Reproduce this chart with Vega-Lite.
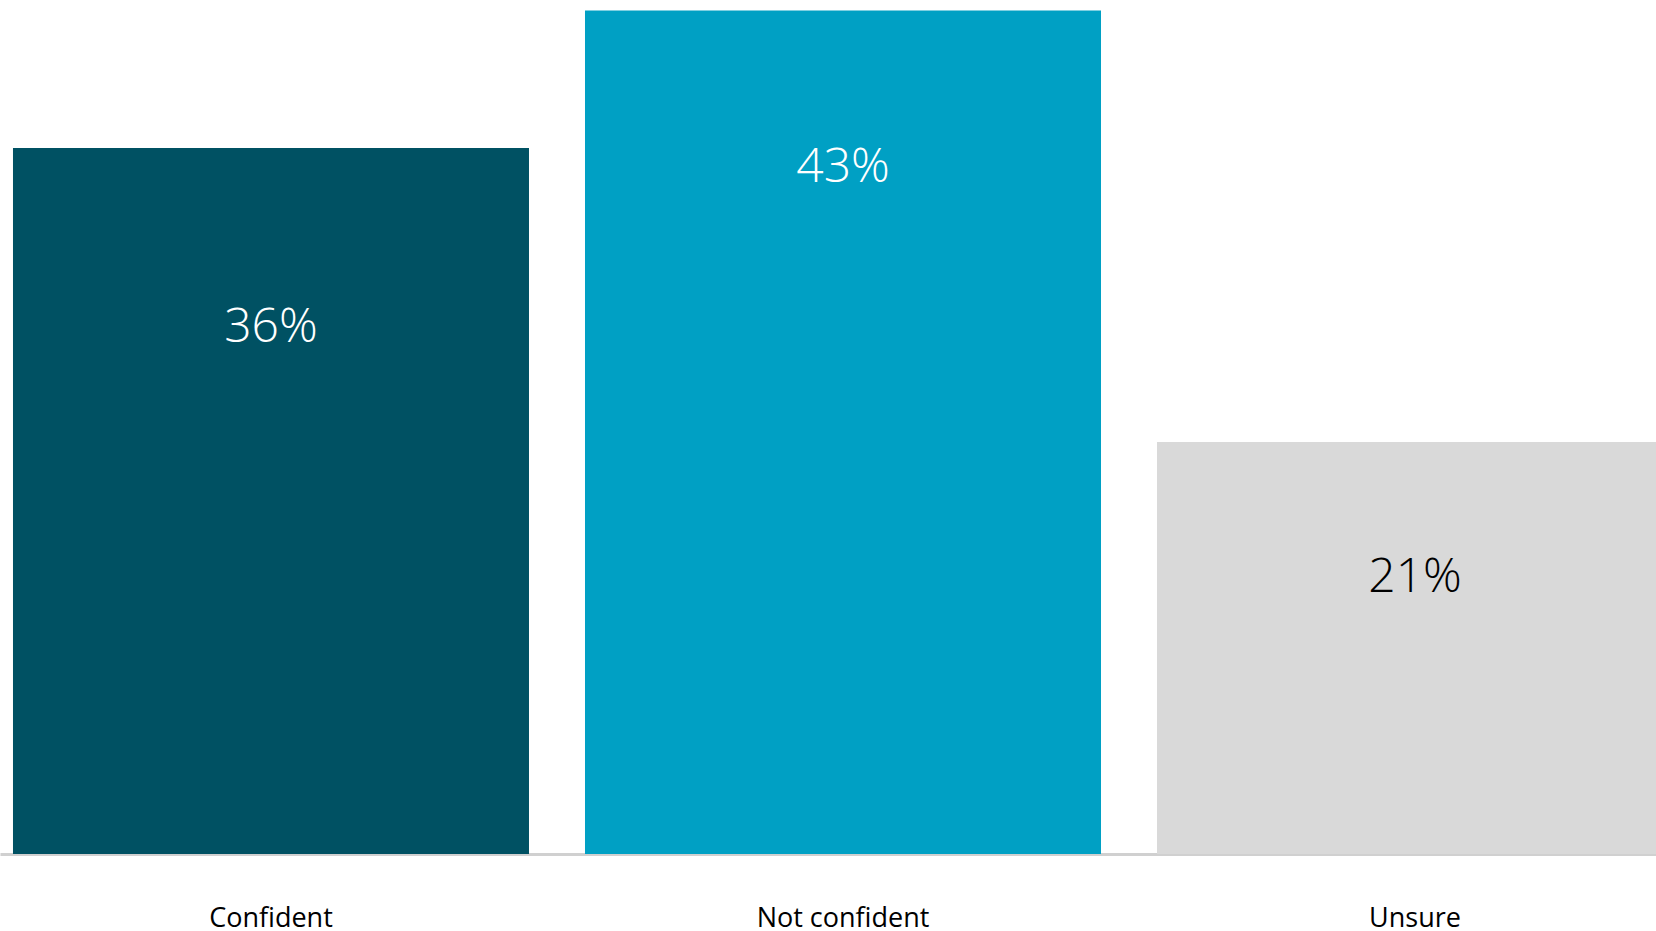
{
  "$schema": "https://vega.github.io/schema/vega-lite/v6.json",
  "width": 1656,
  "height": 854,
  "autosize": {"type": "none"},
  "padding": {"left": 0, "top": 0, "right": 0, "bottom": 77},
  "background": "#ffffff",
  "config": {"view": {"stroke": null}},
  "data": {
    "values": [
      {"answer": "Confident", "share": 0.36},
      {"answer": "Not confident", "share": 0.43},
      {"answer": "Unsure", "share": 0.21}
    ]
  },
  "encoding": {
    "x": {
      "field": "answer",
      "type": "nominal",
      "sort": null,
      "scale": {"range": [0, 1686], "paddingInner": 0.0979, "paddingOuter": 0.0227},
      "axis": {
        "title": null,
        "labelAngle": 0,
        "ticks": false,
        "tickSize": 0,
        "grid": false,
        "labelPadding": 72,
        "labelBaseline": "alphabetic",
        "labelFont": "Open Sans",
        "labelFontSize": 27,
        "labelColor": "#000000",
        "labelLimit": 0,
        "domainColor": "#d0d0d0",
        "domainWidth": 3
      }
    },
    "y": {
      "field": "share",
      "type": "quantitative",
      "scale": {"domain": [0, 0.4354], "nice": false, "zero": true},
      "axis": null
    }
  },
  "layer": [
    {
      "mark": {"type": "bar"},
      "encoding": {
        "color": {
          "field": "answer",
          "type": "nominal",
          "scale": {
            "domain": ["Confident", "Not confident", "Unsure"],
            "range": ["#005163", "#00A0C4", "#D9D9D9"]
          },
          "legend": null
        }
      }
    },
    {
      "transform": [{"filter": "datum.answer === 'Confident'"}],
      "mark": {"type": "text", "baseline": "alphabetic", "dy": 194, "font": "Open Sans", "fontSize": 48, "fontWeight": 300, "fill": "#ffffff"},
      "encoding": {"text": {"field": "share", "format": ".0%"}}
    },
    {
      "transform": [{"filter": "datum.answer === 'Not confident'"}],
      "mark": {"type": "text", "baseline": "alphabetic", "dy": 171, "font": "Open Sans", "fontSize": 48, "fontWeight": 300, "fill": "#ffffff"},
      "encoding": {"text": {"field": "share", "format": ".0%"}}
    },
    {
      "transform": [{"filter": "datum.answer === 'Unsure'"}],
      "mark": {"type": "text", "baseline": "alphabetic", "dy": 150, "font": "Open Sans", "fontSize": 48, "fontWeight": 300, "fill": "#000000"},
      "encoding": {"text": {"field": "share", "format": ".0%"}}
    }
  ]
}
